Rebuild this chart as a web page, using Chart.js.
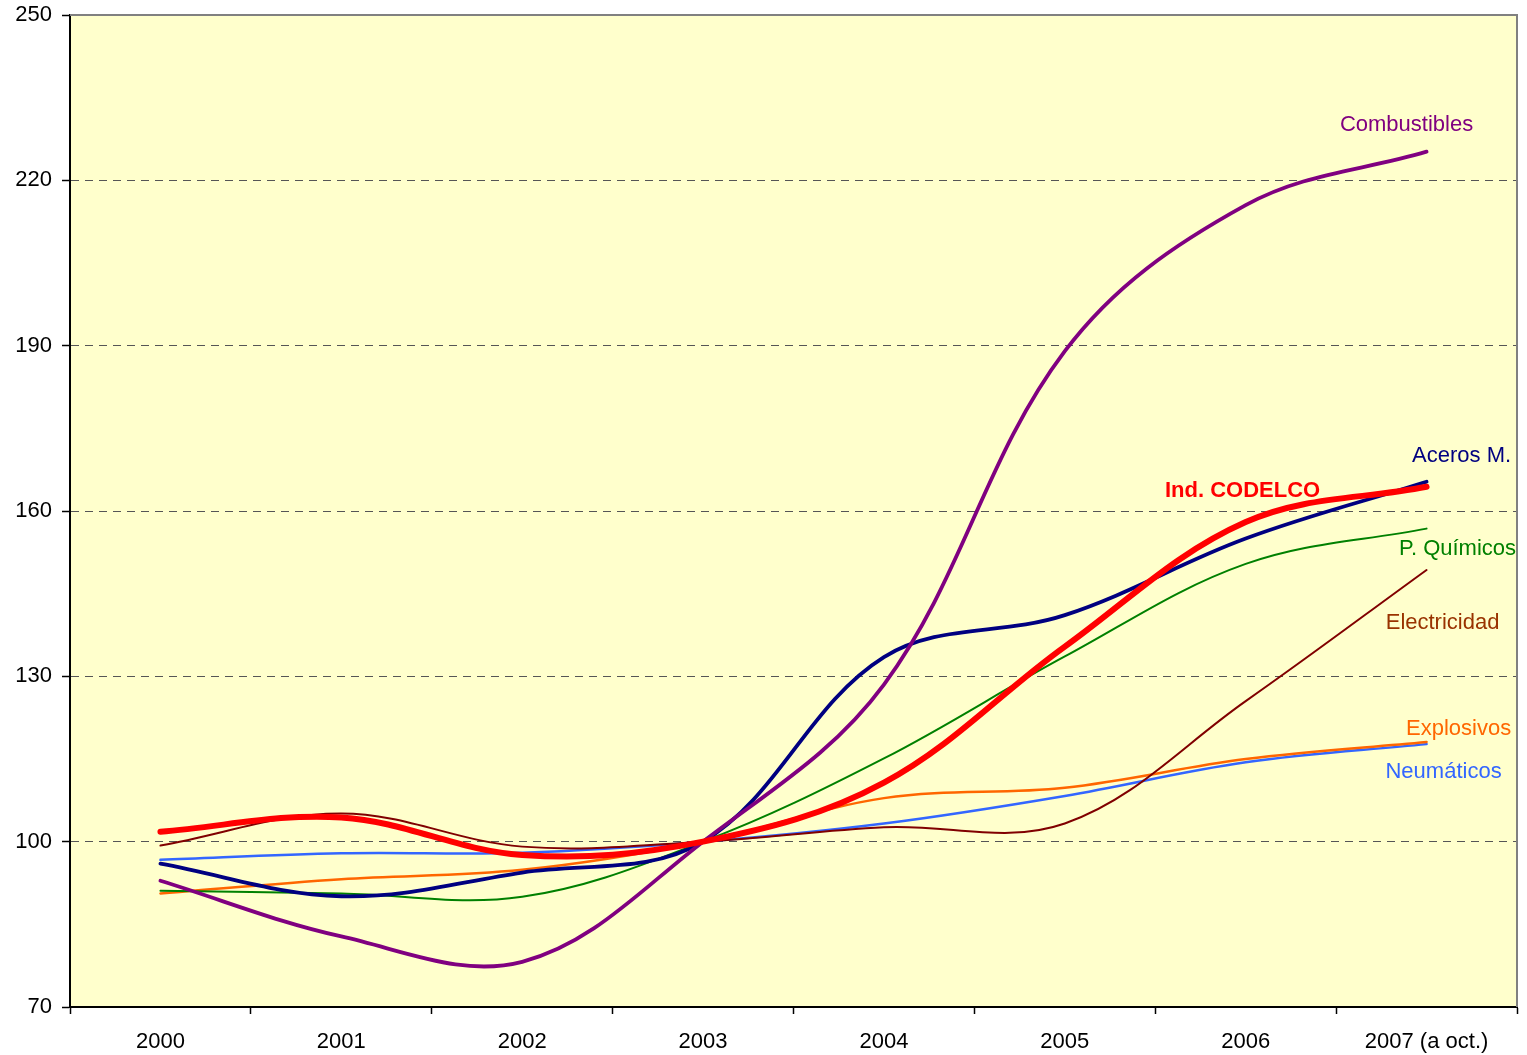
<!DOCTYPE html>
<html>
<head>
<meta charset="utf-8">
<script src="https://cdn.jsdelivr.net/npm/chart.js@4/dist/chart.umd.min.js"></script>
<style>
  html, body { margin: 0; padding: 0; background: #ffffff; }
  #wrap { width: 1527px; height: 1055px; }
</style>
</head>
<body>
<div id="wrap"><canvas id="c" width="1527" height="1055"></canvas></div>
<script>
var years = ['2000', '2001', '2002', '2003', '2004', '2005', '2006', '2007 (a oct.)'];
var y_ticks = [70, 100, 130, 160, 190, 220, 250];

var codelco = [101.8, 104.4, 97.6, 100, 110.7, 135.4, 158.0, 164.4];
var combustibles = [92.9, 82.8, 78.2, 100, 128.5, 189.0, 215.5, 225.2];
var aceros = [96.0, 90.1, 94.4, 100, 133.5, 141.1, 155.0, 165.3];
var quimicos = [91.1, 90.6, 90.0, 100, 115.1, 133.6, 150.4, 156.8];
var electricidad = [99.3, 105.1, 99.1, 100, 102.6, 103.3, 125.5, 149.3];
var explosivos = [90.6, 93.2, 94.9, 100, 107.9, 109.8, 115.0, 118.1];
var neumaticos = [96.7, 97.9, 98.0, 100, 103.3, 108.3, 114.4, 117.7];

var font_family = "'Liberation Sans', Arial, sans-serif";

function make_set(label, data, color, width) {
  return {
    label: label,
    data: data,
    borderColor: color,
    backgroundColor: color,
    borderWidth: width,
    pointRadius: 0,
    tension: 0.36,
    fill: false,
    borderCapStyle: 'round',
    borderJoinStyle: 'round'
  };
}

// end labels, placed relative to each series' last point
var end_labels = [
  {text: 'Combustibles', color: '#800080', bold: false, set: 1, dx: -20, dy: -27},
  {text: 'Aceros M.', color: '#000080', bold: false, set: 2, dx: 35, dy: -26},
  {text: 'Ind. CODELCO', color: '#FF0000', bold: true, set: 0, dx: -184, dy: 4},
  {text: 'P. Químicos', color: '#008000', bold: false, set: 3, dx: 31, dy: 20},
  {text: 'Electricidad', color: '#993300', bold: false, set: 4, dx: 16, dy: 53},
  {text: 'Explosivos', color: '#FF6600', bold: false, set: 5, dx: 32, dy: -13},
  {text: 'Neumáticos', color: '#3366FF', bold: false, set: 6, dx: 17, dy: 28}
];

var plot_bg = {
  id: 'plot_bg',
  beforeDraw: function(chart) {
    var a = chart.chartArea, ctx = chart.ctx;
    ctx.save();
    ctx.fillStyle = '#FFFFCC';
    ctx.fillRect(a.left, a.top, a.right - a.left, a.bottom - a.top);
    ctx.restore();
  },
  beforeDatasetsDraw: function(chart) {
    var a = chart.chartArea, ctx = chart.ctx;
    ctx.save();
    ctx.strokeStyle = '#808080';
    ctx.lineWidth = 2;
    ctx.beginPath();
    ctx.moveTo(a.left, a.top);
    ctx.lineTo(a.right, a.top);
    ctx.lineTo(a.right, a.bottom);
    ctx.stroke();
    ctx.restore();
  },
  afterDatasetsDraw: function(chart) {
    var ctx = chart.ctx;
    var xs = chart.scales.x, ys = chart.scales.y;
    ctx.save();
    ctx.textAlign = 'center';
    ctx.textBaseline = 'middle';
    end_labels.forEach(function(l) {
      var d = chart.data.datasets[l.set].data;
      var last = d.length - 1;
      var px = xs.getPixelForValue(last) + l.dx;
      var py = ys.getPixelForValue(d[last]) + l.dy;
      ctx.font = (l.bold ? 'bold ' : '') + '22px ' + font_family;
      ctx.fillStyle = l.color;
      ctx.fillText(l.text, px, py);
    });
    ctx.restore();
  }
};

var ctx = document.getElementById('c').getContext('2d');
window.myChart = new Chart(ctx, {
  type: 'line',
  data: {
    labels: years,
    datasets: [
      make_set('Ind. CODELCO', codelco, '#FF0000', 6),
      make_set('Combustibles', combustibles, '#800080', 3.8),
      make_set('Aceros M.', aceros, '#000080', 3.8),
      make_set('P. Químicos', quimicos, '#008000', 2),
      make_set('Electricidad', electricidad, '#800000', 2),
      make_set('Explosivos', explosivos, '#FF6600', 2.5),
      make_set('Neumáticos', neumaticos, '#3366FF', 2.5)
    ]
  },
  options: {
    responsive: false,
    animation: false,
    layout: {
      padding: {top: 15, right: 10, left: 0, bottom: 0}
    },
    plugins: {
      legend: {display: false},
      tooltip: {enabled: false}
    },
    scales: {
      x: {
        type: 'category',
        offset: true,
        afterFit: function(scale) {
          scale.height = 48;
          scale.paddingLeft = 0;
          scale.paddingRight = 0;
        },
        grid: {
          offset: true,
          drawOnChartArea: false,
          drawTicks: true,
          tickLength: 7,
          tickColor: '#000000',
          tickWidth: 1.5
        },
        border: {display: true, color: '#000000', width: 2},
        ticks: {
          color: '#000000',
          padding: 15,
          maxRotation: 0,
          autoSkip: false,
          font: {family: font_family, size: 22}
        }
      },
      y: {
        min: 70,
        max: 250,
        afterFit: function(scale) {
          scale.width = 70;
          scale.paddingTop = 0;
          scale.paddingBottom = 0;
        },
        afterBuildTicks: function(scale) {
          scale.ticks = y_ticks.map(function(v) { return {value: v}; });
        },
        grid: {
          color: function(c) {
            var v = c.tick && c.tick.value;
            return (v === 70 || v === 250) ? 'rgba(0,0,0,0)' : '#555555';
          },
          lineWidth: 1,
          drawTicks: true,
          tickLength: 8,
          tickColor: '#000000',
          tickWidth: 1.5
        },
        border: {display: true, color: '#000000', width: 2, dash: [8, 6]},
        ticks: {
          color: '#000000',
          padding: 10,
          font: {family: font_family, size: 22}
        }
      }
    }
  },
  plugins: [plot_bg]
});
</script>
</body>
</html>
